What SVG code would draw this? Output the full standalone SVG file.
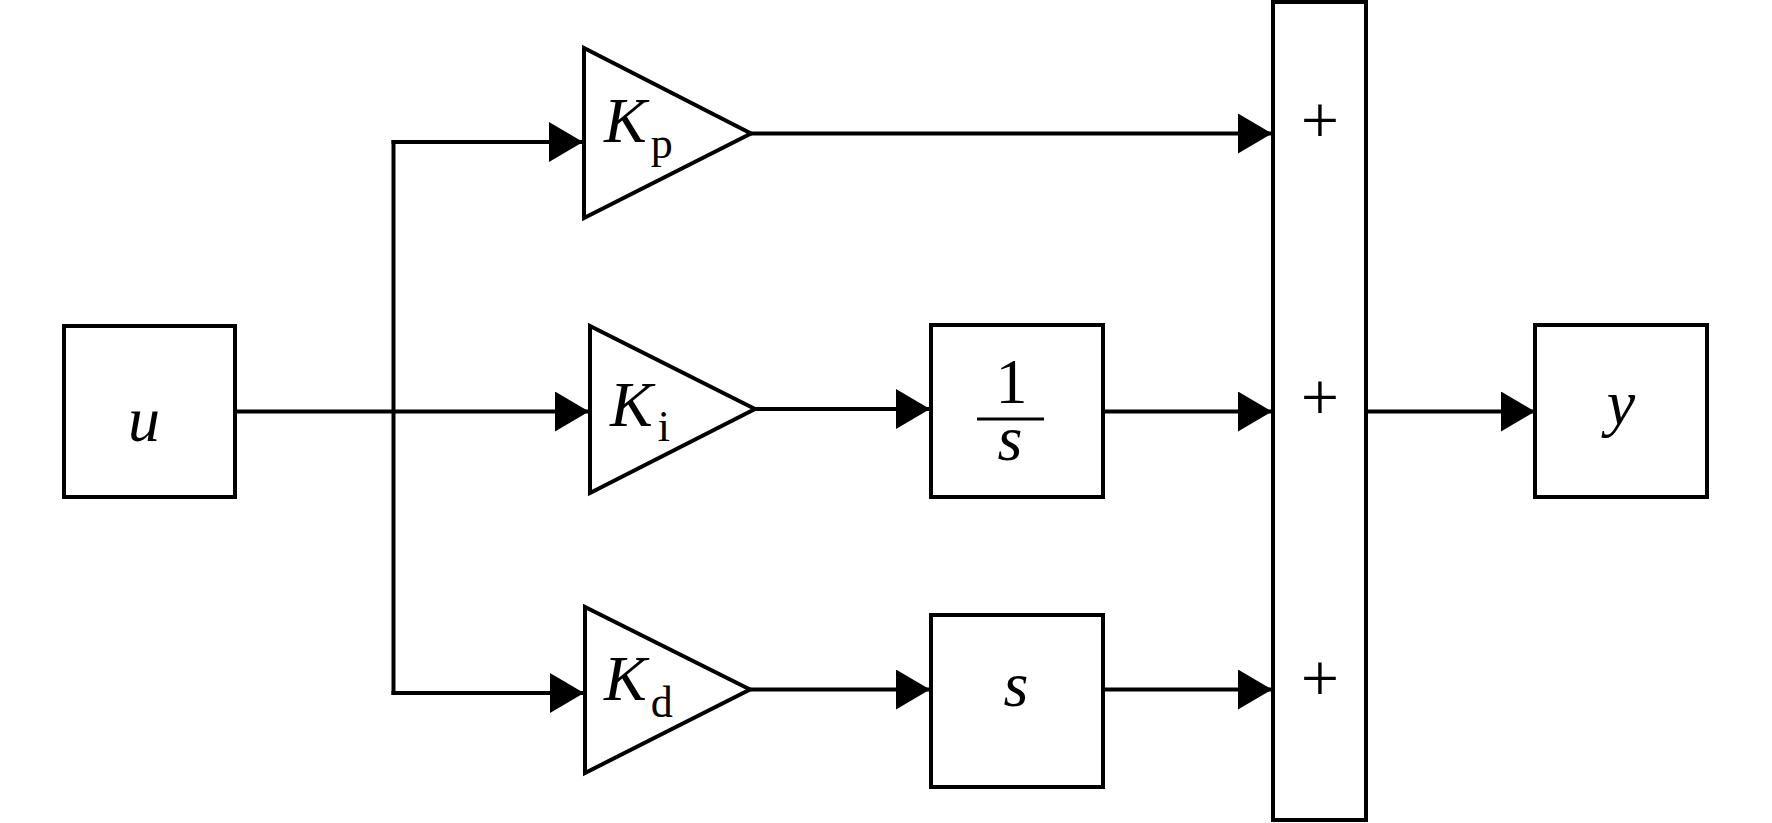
<svg xmlns="http://www.w3.org/2000/svg" width="1772" height="823" viewBox="0 0 1772 823">
<style>
.blk{fill:#fff;stroke:#000;stroke-width:4}
.wire{fill:none;stroke:#000;stroke-width:4}
.t{font-family:"Liberation Serif","Times New Roman",serif;font-size:64px;fill:#000}
.it{font-style:italic}
.up{font-style:normal}
.sub{font-style:normal;font-size:44px}
.plus{font-family:"Liberation Serif","Times New Roman",serif;font-size:68px;fill:#000;text-anchor:middle}
.mid{text-anchor:middle}
</style>
<defs>
<marker id="arr" markerUnits="userSpaceOnUse" markerWidth="34" markerHeight="40" refX="34" refY="20" orient="auto" viewBox="0 0 34 40">
<path d="M0,0 L34,20 L0,40 Z" fill="#000"/>
</marker>
</defs>
<g id="connectors">
<path class="wire" d="M235,411.5 L589,411.5" marker-end="url(#arr)"/>
<path class="wire" d="M393.5,140 L393.5,695"/>
<path class="wire" d="M391.5,142 L583,142" marker-end="url(#arr)"/>
<path class="wire" d="M391.5,693 L584,693" marker-end="url(#arr)"/>
<path class="wire" d="M751,133.5 L1272,133.5" marker-end="url(#arr)"/>
<path class="wire" d="M755,409 L930,409" marker-end="url(#arr)"/>
<path class="wire" d="M1103,411.5 L1272,411.5" marker-end="url(#arr)"/>
<path class="wire" d="M750,689.5 L930,689.5" marker-end="url(#arr)"/>
<path class="wire" d="M1103,689.5 L1272,689.5" marker-end="url(#arr)"/>
<path class="wire" d="M1366,411.5 L1535,411.5" marker-end="url(#arr)"/>
</g>
<g id="u">
<rect class="blk" x="64" y="326" width="171" height="171"/>
<text class="t it mid" x="144" y="441">u</text>
</g>
<g id="Kp">
<polygon class="blk" points="584,48 584,218 751,133.5"/>
<text class="t it" x="604" y="142">K<tspan class="sub" dx="4" dy="16">p</tspan></text>
</g>
<g id="Ki">
<polygon class="blk" points="590,326 590,493 755,409"/>
<text class="t it" x="610" y="426">K<tspan class="sub" dx="5" dy="15">i</tspan></text>
</g>
<g id="Kd">
<polygon class="blk" points="585,607 585,773 750,689.5"/>
<text class="t it" x="604" y="700">K<tspan class="sub" dx="4" dy="17">d</tspan></text>
</g>
<g id="integrator">
<rect class="blk" x="931" y="325" width="172" height="172"/>
<line x1="977" y1="419" x2="1044" y2="419" stroke="#000" stroke-width="3"/>
<text class="t mid"><tspan class="up" x="1011.5" y="403">1</tspan><tspan class="it" x="1010" y="460">s</tspan></text>
</g>
<g id="derivative">
<rect class="blk" x="931" y="615" width="172" height="172"/>
<text class="t it mid" x="1016" y="706">s</text>
</g>
<g id="sum">
<rect class="blk" x="1273" y="2" width="93" height="818"/>
<text class="plus" x="1320" y="143">+</text>
<text class="plus" x="1320" y="420">+</text>
<text class="plus" x="1320" y="701">+</text>
</g>
<g id="y">
<rect class="blk" x="1535" y="325" width="172" height="172"/>
<text class="t it mid" x="1621" y="424">y</text>
</g>
</svg>
